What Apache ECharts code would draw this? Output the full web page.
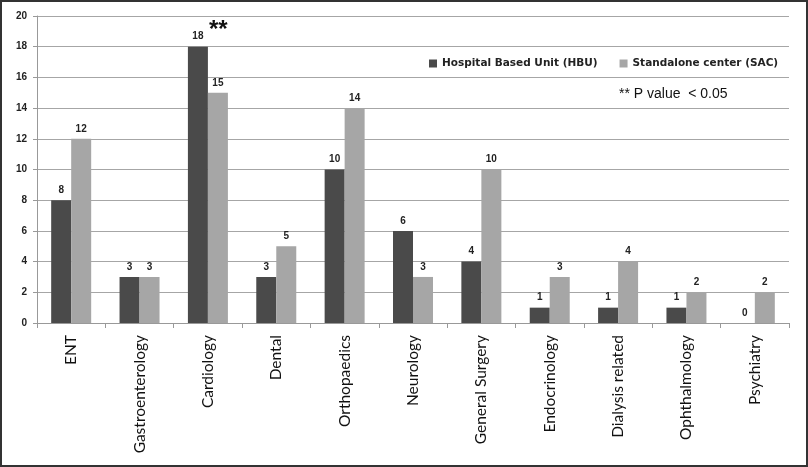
<!DOCTYPE html>
<html><head><meta charset="utf-8">
<script src="https://cdn.jsdelivr.net/npm/echarts@6/dist/echarts.min.js"></script>
<style>html,body{margin:0;padding:0;background:#fff}#c{width:808px;height:467px}</style>
</head><body><div id="c"></div>
<script>
const categories = ['ENT','Gastroenterology','Cardiology','Dental','Orthopaedics','Neurology','General Surgery','Endocrinology','Dialysis related','Ophthalmology','Psychiatry'];
const hbuValues = [8,3,18,3,10,6,4,1,1,1,0];
const sacValues = [12,3,15,5,14,3,10,3,4,2,2];
const seriesNames = ['Hospital Based Unit (HBU)','Standalone center (SAC)'];
const yTicks = {min:0,max:20,interval:2};

const chart = echarts.init(document.getElementById('c'), null, {renderer:'canvas'});
const labelStyle = {show:true, position:'top', distance:5, fontFamily:'Liberation Sans, Arial', fontSize:10, fontWeight:'bold', color:'#222'};
chart.setOption({
  animation:false,
  backgroundColor:'#fff',
  grid:{left:37, right:19, top:16, bottom:144, containLabel:false},
  legend:{
    data:seriesNames, left:424, top:53, icon:'rect', itemWidth:8, itemHeight:8, itemGap:22, itemTextGap:1,
    textStyle:{fontFamily:'DejaVu Sans', fontSize:10.5, fontWeight:'bold', color:'#222'}
  },
  xAxis:{
    type:'category', data:categories,
    axisLine:{lineStyle:{color:'#999', width:1}},
    axisTick:{show:true, length:5, lineStyle:{color:'#999'}},
    axisLabel:{rotate:90, fontFamily:'Lato, Liberation Sans, Arial', fontSize:15.5, color:'#111', margin:12, interval:0}
  },
  yAxis:{
    type:'value', min:yTicks.min, max:yTicks.max, interval:yTicks.interval,
    axisLine:{show:true, lineStyle:{color:'#999'}},
    axisTick:{show:true, length:4, lineStyle:{color:'#999'}},
    splitLine:{lineStyle:{color:'#a6a6a6', width:1}},
    axisLabel:{fontFamily:'Liberation Sans, Arial', fontSize:10, fontWeight:'bold', color:'#222', margin:10}
  },
  series:[
    {name:seriesNames[0], type:'bar', data:hbuValues, barWidth:20, barGap:'0%',
     itemStyle:{color:'#4a4a4a'}, label:labelStyle},
    {name:seriesNames[1], type:'bar', data:sacValues, barWidth:20,
     itemStyle:{color:'#a6a6a6'}, label:labelStyle}
  ],
  graphic:[
    {type:'rect', shape:{x:1, y:1, width:806, height:465}, style:{fill:'none', stroke:'#333', lineWidth:2}, z:100},
    {type:'text', left:209, top:18, style:{text:'**', fontFamily:'Liberation Sans, Arial', fontSize:24, fontWeight:'bold', fill:'#111'}},
    {type:'text', left:619, top:87, style:{text:'** P value  < 0.05', fontFamily:'Liberation Sans, Arial', fontSize:14, fill:'#111'}}
  ]
});
</script></body></html>
